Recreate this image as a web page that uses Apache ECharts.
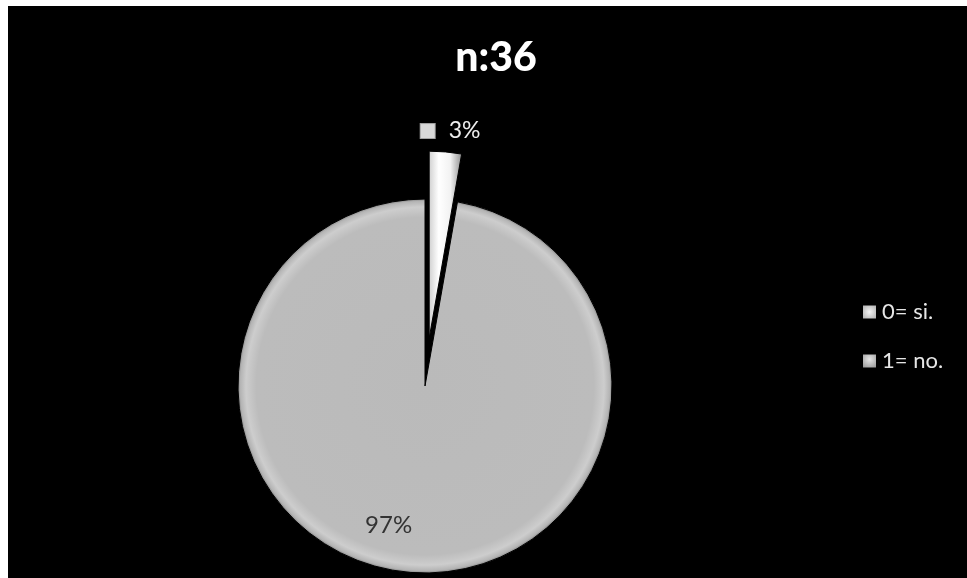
<!DOCTYPE html>
<html>
<head>
<meta charset="utf-8">
<script src="https://cdn.jsdelivr.net/npm/echarts@6/dist/echarts.min.js"></script>
<style>
  html, body { margin: 0; padding: 0; background: #ffffff; }
  #chart { position: absolute; left: 8px; top: 6px; width: 959px; height: 572px; background: #000000; }
</style>
</head>
<body>
<div id="chart"></div>
<script>
// Respuestas (n = 36)
const categories = ['0= si.', '1= no.'];
const counts = [1, 35];
const titleText = 'n:36';

const FONT = 'Lato, "Open Sans", sans-serif';

// Bevelled grey fill for the large slice
const greyFill = {
  type: 'radial', x: 0.5, y: 0.5, r: 0.5,
  colorStops: [
    { offset: 0, color: '#bababa' },
    { offset: 0.9, color: '#bcbcbc' },
    { offset: 0.955, color: '#cdcdcd' },
    { offset: 0.985, color: '#b4b4b4' },
    { offset: 1, color: '#7e7e7e' }
  ]
};
// Bright white fill for the small, pulled-out slice
const whiteFill = {
  type: 'linear', x: 0, y: 0, x2: 1, y2: 0,
  colorStops: [
    { offset: 0, color: '#cfcfcf' },
    { offset: 0.3, color: '#ffffff' },
    { offset: 0.65, color: '#f2f2f2' },
    { offset: 1, color: '#8e8e8e' }
  ]
};
const fills = [whiteFill, greyFill];
const legendFills = [
  { type: 'radial', x: 0.5, y: 0.5, r: 0.7, colorStops: [{ offset: 0, color: '#f4f4f4' }, { offset: 1, color: '#9c9c9c' }] },
  { type: 'radial', x: 0.5, y: 0.4, r: 0.7, colorStops: [{ offset: 0, color: '#e6e6e6' }, { offset: 1, color: '#8a8a8a' }] }
];

// Label nudges relative to the library's inside anchor, per slice
const labelShift = [[13, -111], [-28, 43]];

const labelStyles = [
  {
    position: 'inside',
    color: '#eeeeee',
    rich: {
      k: { width: 14, height: 14, backgroundColor: '#d9d9d9', borderColor: '#a0a0a0', borderWidth: 1 },
      t: { fontFamily: FONT, fontSize: 23, color: '#eeeeee', padding: [0, 0, 0, 14] }
    },
    formatter: p => '{k|}{t|' + Math.round(p.percent) + '%}'
  },
  {
    position: 'inside',
    fontFamily: FONT,
    fontSize: 24,
    color: '#333333',
    formatter: p => Math.round(p.percent) + '%'
  }
];

const seriesData = categories.map((name, i) => ({
  name: name,
  value: counts[i],
  selected: i === 0,
  itemStyle: { color: fills[i] },
  label: labelStyles[i]
}));

const chart = echarts.init(document.getElementById('chart'), null, { renderer: 'canvas' });
chart.setOption({
  backgroundColor: '#000000',
  animation: false,
  title: {
    text: titleText,
    left: 483,
    top: 26,
    textAlign: 'center',
    textStyle: { fontFamily: FONT, fontWeight: 900, fontSize: 41, color: '#ffffff' }
  },
  legend: {
    orient: 'vertical',
    left: 848,
    top: 290,
    itemWidth: 15,
    itemHeight: 15,
    itemGap: 27,
    icon: 'rect',
    selectedMode: false,
    textStyle: { fontFamily: FONT, fontSize: 22, color: '#e6e6e6' },
    data: categories.map((name, i) => ({ name: name, itemStyle: { color: legendFills[i] } }))
  },
  series: [{
    type: 'pie',
    center: [417, 380],
    radius: 187,
    startAngle: 90,
    clockwise: true,
    selectedMode: 'single',
    selectedOffset: 48,
    avoidLabelOverlap: false,
    labelLine: { show: false },
    labelLayout: p => ({ dx: labelShift[p.dataIndex][0], dy: labelShift[p.dataIndex][1] }),
    itemStyle: { borderColor: '#000000', borderWidth: 1 },
    emphasis: { disabled: true },
    data: seriesData
  }]
});
</script>
</body>
</html>
